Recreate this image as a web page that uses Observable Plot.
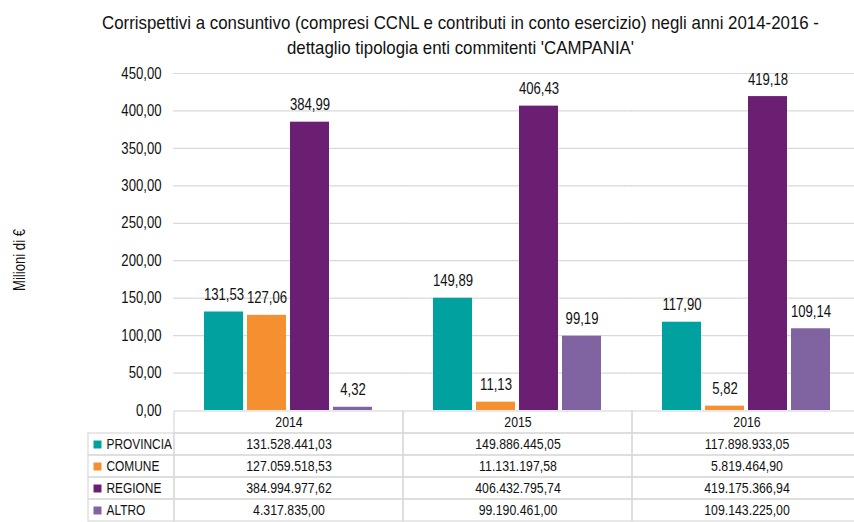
<!DOCTYPE html>
<html>
<head>
<meta charset="utf-8">
<script src="https://cdn.jsdelivr.net/npm/d3@7"></script>
<script src="https://cdn.jsdelivr.net/npm/@observablehq/plot@0.6"></script>
<style>
  html, body { margin: 0; padding: 0; background: #fff; overflow: hidden; width: 854px; height: 522px; }
  #wrap { position: relative; width: 854px; height: 522px; overflow: hidden; font-family: "Liberation Sans", Arial, sans-serif; color: #111; }
  #title { position: absolute; left: 0; top: 10px; width: 921px; text-align: center; font-size: 19px; line-height: 25px; color: #111; transform-origin: 460.5px 0; white-space: nowrap; }
  #chart { position: absolute; left: 0; top: 60px; width: 870px; }
  #table { position: absolute; left: 0; top: 410px; width: 870px; }
  #chart svg, #table svg { max-width: none !important; }
</style>
</head>
<body>
<div id="wrap">
  <div id="title"><span id="t1">Corrispettivi a consuntivo (compresi CCNL e contributi in conto esercizio) negli anni 2014-2016 -</span><br><span id="t2">dettaglio tipologia enti commitenti 'CAMPANIA'</span></div>
  <div id="chart"></div>
  <div id="table"></div>
</div>
<script>
const years = ["2014", "2015", "2016"];
const types = ["PROVINCIA", "COMUNE", "REGIONE", "ALTRO"];
const provincia = [131528441.03, 149886445.05, 117898933.05];
const comune = [127059518.53, 11131197.58, 5819464.90];
const regione = [384994977.62, 406432795.74, 419175366.94];
const altro = [4317835.00, 99190461.00, 109143225.00];
const colors = ["#00a19e", "#f4902f", "#6b1f73", "#8064a2"];
const yTicks = [0, 50, 100, 150, 200, 250, 300, 350, 400, 450];
const yLabel = "Milioni di €";

const series = [provincia, comune, regione, altro];
const rows = [];
types.forEach((t, ti) => years.forEach((y, yi) => {
  rows.push({year: y, type: t, value: series[ti][yi], mil: series[ti][yi] / 1e6});
}));

const it = d3.formatLocale({decimal: ",", thousands: ".", grouping: [3], currency: ["", "€"]});
const fmt2 = it.format(".2f");
const fmtFull = it.format(",.2f");
const FONT = '"Liberation Sans", Arial, sans-serif';
const GRID = "#d9d9d9";
const NARROW = 0.82; // emulate a narrow (condensed) face

const chart = Plot.plot({
  width: 862,
  height: 350,
  marginTop: 13,
  marginBottom: 0,
  marginLeft: 174,
  marginRight: 1,
  style: {fontFamily: FONT, fontSize: "16px", color: "#111", background: "transparent", overflow: "visible"},
  fx: {domain: years, paddingInner: 0.262, paddingOuter: 0.131, axis: null, label: null},
  x: {domain: types, paddingInner: 0.09, paddingOuter: 0, axis: null},
  y: {domain: [0, 450], ticks: yTicks, tickFormat: fmt2, tickSize: 0, tickPadding: 43, label: null},
  color: {domain: types, range: colors},
  marks: [
    Plot.ruleY(yTicks.slice(1), {stroke: GRID, strokeWidth: 1.2, insetLeft: -31, insetRight: -30}),
    Plot.barY(rows, {fx: "year", x: "type", y: "mil", fill: "type"}),
    Plot.text(rows, {fx: "year", x: "type", y: "mil", text: d => fmt2(d.mil), dy: -17, fill: "#111", fontSize: 16})
  ]
});
document.getElementById("chart").appendChild(chart);

// y-axis title
const ylab = document.createElementNS("http://www.w3.org/2000/svg", "text");
ylab.setAttribute("transform", "translate(25,200) rotate(-90)");
ylab.setAttribute("text-anchor", "middle");
ylab.setAttribute("font-size", "16");
ylab.setAttribute("fill", "#111");
ylab.textContent = yLabel;
chart.appendChild(ylab);

const rowKeys = [" ", ...types];
const cells = [];
types.forEach((t, ti) => years.forEach((y, yi) => cells.push({year: y, type: t, value: series[ti][yi]})));
const gridCells = [];
rowKeys.forEach(r => years.forEach(y => gridCells.push({year: y, row: r})));

const table = Plot.plot({
  width: 862,
  height: 112,
  marginTop: 0,
  marginBottom: 0,
  marginLeft: 174,
  marginRight: 1,
  style: {fontFamily: FONT, fontSize: "15px", color: "#111", background: "transparent", overflow: "visible"},
  x: {domain: years, padding: 0, axis: null},
  y: {domain: rowKeys, padding: 0, axis: null},
  color: {domain: types, range: colors},
  marks: [
    Plot.cell(gridCells, {x: "year", y: "row", fill: "none", stroke: GRID, strokeWidth: 1.2}),
    Plot.cell(types, {x: () => years[0], y: d => d, insetLeft: -86, insetRight: 229, fill: "none", stroke: GRID, strokeWidth: 1.2}),
    Plot.text(years, {x: d => d, y: () => " ", text: d => d, fill: "#111"}),
    Plot.text(cells, {x: "year", y: "type", text: d => fmtFull(d.value), fill: "#111"}),
    Plot.dot(types, {y: d => d, frameAnchor: "left", dx: -77, symbol: "square", r: 4.5, fill: d => d}),
    Plot.text(types, {y: d => d, frameAnchor: "left", dx: -68, textAnchor: "start", text: d => d, fill: "#111", fontSize: 14.5})
  ]
});
document.getElementById("table").appendChild(table);

// condense all SVG text horizontally (narrow face emulation)
for (const svg of [chart, table]) {
  svg.querySelectorAll("text").forEach(t => {
    const len = t.getComputedTextLength();
    if (len > 0) {
      t.setAttribute("textLength", (len * NARROW).toFixed(2));
      t.setAttribute("lengthAdjust", "spacingAndGlyphs");
    }
  });
}
// fit title to the reference line width
const title = document.getElementById("title");
const w1 = document.getElementById("t1").getBoundingClientRect().width;
title.style.transform = `scaleX(${(717 / w1).toFixed(4)})`;
</script>
</body>
</html>
